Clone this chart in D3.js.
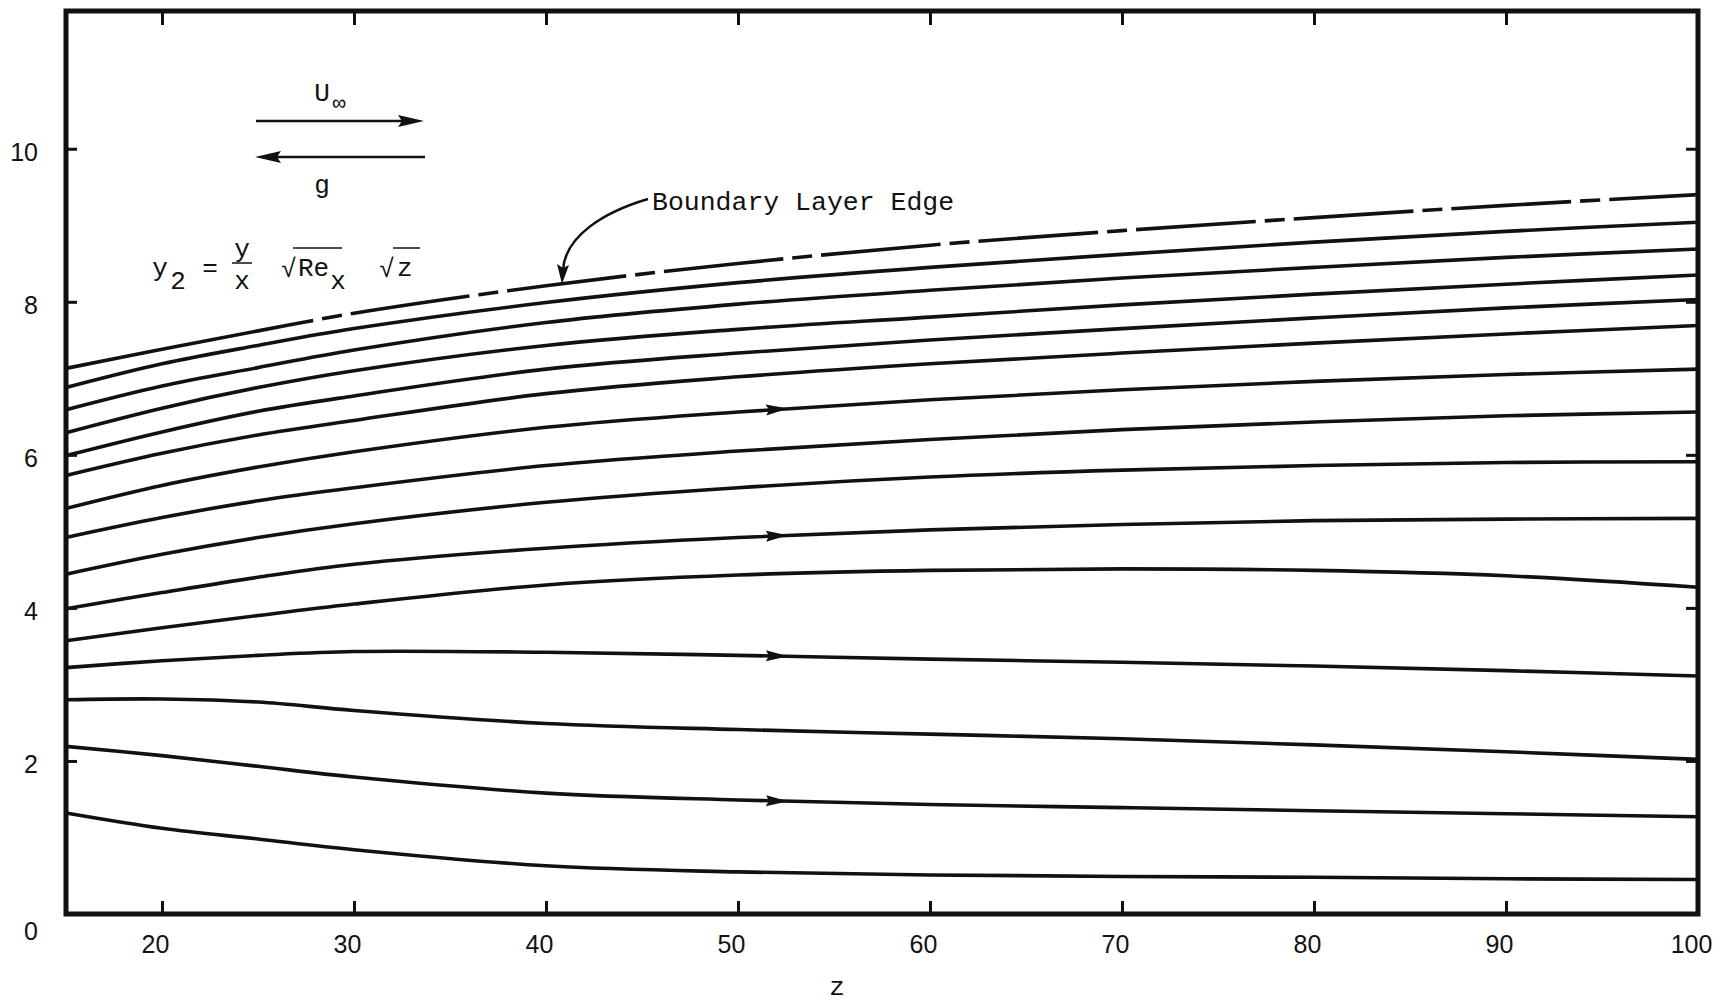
<!DOCTYPE html>
<html>
<head>
<meta charset="utf-8">
<script src="https://cdn.jsdelivr.net/npm/d3@7"></script>
<style>
  html, body { margin: 0; padding: 0; background: #fff; }
  svg { display: block; }
  .tick text { font-family: "Liberation Sans", Arial, sans-serif; font-size: 25px; fill: #111; }
  .mono { font-family: "Liberation Mono", "Courier New", monospace; fill: #111; }
</style>
</head>
<body>
<svg id="chart" width="1722" height="1005"></svg>
<script>
// Streamlines y2(z) in the boundary layer, sampled at these z stations
const zValues = [15, 20, 25, 30, 40, 50, 60, 70, 80, 90, 100];

// Boundary layer edge (dashed)
const boundaryLayerEdge = [7.13, 7.38, 7.62, 7.85, 8.21, 8.50, 8.74, 8.93, 9.10, 9.26, 9.40];
// Streamlines, from the top down
const stream02 = [6.88, 7.19, 7.43, 7.65, 7.99, 8.25, 8.45, 8.62, 8.78, 8.92, 9.04];
const stream03 = [6.59, 6.90, 7.14, 7.37, 7.73, 7.97, 8.15, 8.31, 8.45, 8.58, 8.69];
const stream04 = [6.29, 6.61, 6.88, 7.10, 7.43, 7.64, 7.80, 7.96, 8.10, 8.23, 8.35];
const stream05 = [5.99, 6.30, 6.57, 6.77, 7.12, 7.33, 7.50, 7.65, 7.79, 7.92, 8.03];
const stream06 = [5.73, 6.02, 6.26, 6.45, 6.80, 7.02, 7.19, 7.33, 7.46, 7.58, 7.69];
const stream07 = [5.30, 5.60, 5.84, 6.04, 6.36, 6.56, 6.72, 6.85, 6.96, 7.05, 7.12];
const stream08 = [4.92, 5.18, 5.40, 5.57, 5.86, 6.05, 6.20, 6.33, 6.43, 6.51, 6.56];
const stream09 = [4.44, 4.70, 4.92, 5.10, 5.38, 5.57, 5.71, 5.80, 5.86, 5.90, 5.91];
const stream10 = [3.99, 4.20, 4.40, 4.57, 4.78, 4.92, 5.02, 5.09, 5.14, 5.16, 5.17];
const stream11 = [3.57, 3.74, 3.90, 4.05, 4.30, 4.43, 4.49, 4.51, 4.49, 4.42, 4.27];
const stream12 = [3.22, 3.31, 3.38, 3.43, 3.42, 3.38, 3.33, 3.29, 3.24, 3.18, 3.11];
const stream13 = [2.80, 2.81, 2.77, 2.66, 2.49, 2.41, 2.35, 2.29, 2.21, 2.12, 2.02];
const stream14 = [2.19, 2.07, 1.93, 1.79, 1.58, 1.49, 1.43, 1.39, 1.35, 1.31, 1.27];
const stream15 = [1.32, 1.12, 0.98, 0.84, 0.63, 0.55, 0.51, 0.49, 0.48, 0.46, 0.45];

// Streamlines that carry a flow-direction arrowhead
const arrowStreams = [stream07, stream10, stream12, stream14];
const arrowZ = 52.6;

const xTickValues = [20, 30, 40, 50, 60, 70, 80, 90, 100];
const yTickValues = [0, 2, 4, 6, 8, 10];

const svg = d3.select("#chart");
const frame = { left: 66, right: 1698, top: 11, bottom: 914 };

const x = d3.scaleLinear().domain([15, 100]).range([frame.left, frame.right]);
const y = d3.scaleLinear().domain([0, 11.8]).range([frame.bottom, frame.top]);

const ink = "#111";

// Axes: ticks point inward, labels only on the left and bottom
const gB = svg.append("g").attr("transform", `translate(0,${frame.bottom})`)
  .call(d3.axisBottom(x).tickValues(xTickValues).tickFormat(d3.format("d"))
        .tickSize(-13).tickPadding(21));
gB.selectAll(".tick text").attr("dx", -7);
svg.append("g").attr("transform", `translate(0,${frame.top})`)
  .call(d3.axisTop(x).tickValues(xTickValues).tickSize(-14).tickFormat(""));
const gL = svg.append("g").attr("transform", `translate(${frame.left},0)`)
  .call(d3.axisLeft(y).tickValues(yTickValues).tickFormat(d3.format("d"))
        .tickSize(-11).tickPadding(28));
gL.selectAll(".tick text").attr("dy", d => d === 0 ? "1.0em" : "0.48em");
svg.append("g").attr("transform", `translate(${frame.right},0)`)
  .call(d3.axisRight(y).tickValues(yTickValues).tickSize(-12).tickFormat(""));

svg.selectAll(".domain").remove();
svg.selectAll(".tick line").attr("stroke", ink).attr("stroke-width", 3);

// Frame
svg.append("rect")
  .attr("x", frame.left).attr("y", frame.top)
  .attr("width", frame.right - frame.left).attr("height", frame.bottom - frame.top)
  .attr("fill", "none").attr("stroke", ink).attr("stroke-width", 5);

// Streamlines
const line = d3.line()
  .x((d, i) => x(zValues[i]))
  .y(d => y(d))
  .curve(d3.curveCatmullRom.alpha(0.5));

const streams = [stream02, stream03, stream04, stream05, stream06, stream07, stream08,
                 stream09, stream10, stream11, stream12, stream13, stream14, stream15];

const gLines = svg.append("g");
streams.forEach(s => {
  gLines.append("path")
    .datum(s)
    .attr("class", "stream")
    .attr("d", line)
    .attr("fill", "none")
    .attr("stroke", ink)
    .attr("stroke-width", 3.6)
    .attr("stroke-linecap", "round");
});

// Boundary layer edge: solid start, then alternating short and long dashes
const blPath = gLines.append("path")
  .datum(boundaryLayerEdge)
  .attr("d", line)
  .attr("fill", "none")
  .attr("stroke", ink)
  .attr("stroke-width", 3.6);
const blLen = blPath.node().getTotalLength();
const dashes = [252];
let run = 252;
while (run < blLen + 200) {
  dashes.push(9, 20, 9, 120);
  run += 158;
}
dashes.push(0);
blPath.attr("stroke-dasharray", dashes.join(" "));

// Point on a path at a given screen x (binary search along its length)
function pointAtX(node, px) {
  let lo = 0, hi = node.getTotalLength();
  for (let k = 0; k < 40; k++) {
    const mid = (lo + hi) / 2;
    if (node.getPointAtLength(mid).x < px) lo = mid; else hi = mid;
  }
  return { len: lo, p: node.getPointAtLength(lo) };
}

// Flow-direction arrowheads on selected streamlines
gLines.selectAll("path.stream").each(function(d) {
  if (!arrowStreams.includes(d)) return;
  const node = this;
  const { len, p } = pointAtX(node, x(arrowZ));
  const p0 = node.getPointAtLength(Math.max(0, len - 4));
  const ang = Math.atan2(p.y - p0.y, p.x - p0.x) * 180 / Math.PI;
  gLines.append("path")
    .attr("d", "M0,0 L-22,-5.5 L-19,0 L-22,5.5 Z")
    .attr("fill", ink)
    .attr("transform", `translate(${p.x},${p.y}) rotate(${ang})`);
});

// Free-stream and gravity direction indicators
const gKey = svg.append("g");
gKey.append("text").attr("class", "mono").attr("x", 322).attr("y", 101)
  .attr("text-anchor", "middle").attr("font-size", 26).text("U");
gKey.append("text").attr("class", "mono").attr("x", 339).attr("y", 110)
  .attr("text-anchor", "middle").attr("font-size", 22).text("∞");
gKey.append("line").attr("x1", 256).attr("x2", 405).attr("y1", 121).attr("y2", 121)
  .attr("stroke", ink).attr("stroke-width", 2.5);
gKey.append("path").attr("d", "M424,121 L398,115 L402,121 L398,127 Z").attr("fill", ink);
gKey.append("line").attr("x1", 275).attr("x2", 425).attr("y1", 157).attr("y2", 157)
  .attr("stroke", ink).attr("stroke-width", 2.5);
gKey.append("path").attr("d", "M255,157 L281,151 L277,157 L281,163 Z").attr("fill", ink);
gKey.append("text").attr("class", "mono").attr("x", 322).attr("y", 193)
  .attr("text-anchor", "middle").attr("font-size", 26).text("g");

// Similarity coordinate definition
const gEq = svg.append("g").attr("class", "mono").attr("font-size", 26);
gEq.append("text").attr("x", 160).attr("y", 276).attr("text-anchor", "middle").text("y");
gEq.append("text").attr("x", 178).attr("y", 289).attr("text-anchor", "middle").text("2");
gEq.append("text").attr("x", 210).attr("y", 276).attr("text-anchor", "middle").text("=");
gEq.append("text").attr("x", 242).attr("y", 257).attr("text-anchor", "middle").text("y");
gEq.append("line").attr("x1", 232).attr("x2", 252).attr("y1", 263).attr("y2", 263)
  .attr("stroke", ink).attr("stroke-width", 1.5);
gEq.append("text").attr("x", 242).attr("y", 289).attr("text-anchor", "middle").text("x");
gEq.append("text").attr("x", 281).attr("y", 277).attr("font-size", 26).text("√");
gEq.append("line").attr("x1", 293).attr("x2", 342).attr("y1", 248).attr("y2", 248)
  .attr("stroke", ink).attr("stroke-width", 1.5);
gEq.append("text").attr("x", 298).attr("y", 276).text("Re");
gEq.append("text").attr("x", 338).attr("y", 289).attr("text-anchor", "middle").text("x");
gEq.append("text").attr("x", 379).attr("y", 277).attr("font-size", 26).text("√");
gEq.append("line").attr("x1", 393).attr("x2", 420).attr("y1", 248).attr("y2", 248)
  .attr("stroke", ink).attr("stroke-width", 1.5);
gEq.append("text").attr("x", 397).attr("y", 276).text("z");

// Boundary layer edge callout
svg.append("text").attr("class", "mono").attr("x", 652).attr("y", 210)
  .attr("font-size", 26.5).text("Boundary Layer Edge");
svg.append("path")
  .attr("d", "M648,199 C604,212 565,236 563,270")
  .attr("fill", "none").attr("stroke", ink).attr("stroke-width", 2.5);
svg.append("path")
  .attr("d", "M562,284 L557,264 L563,268 L569,265 Z").attr("fill", ink);

// Axis title
svg.append("text").attr("class", "mono").attr("x", 837).attr("y", 995)
  .attr("text-anchor", "middle").attr("font-size", 26).text("z");
</script>
</body>
</html>
